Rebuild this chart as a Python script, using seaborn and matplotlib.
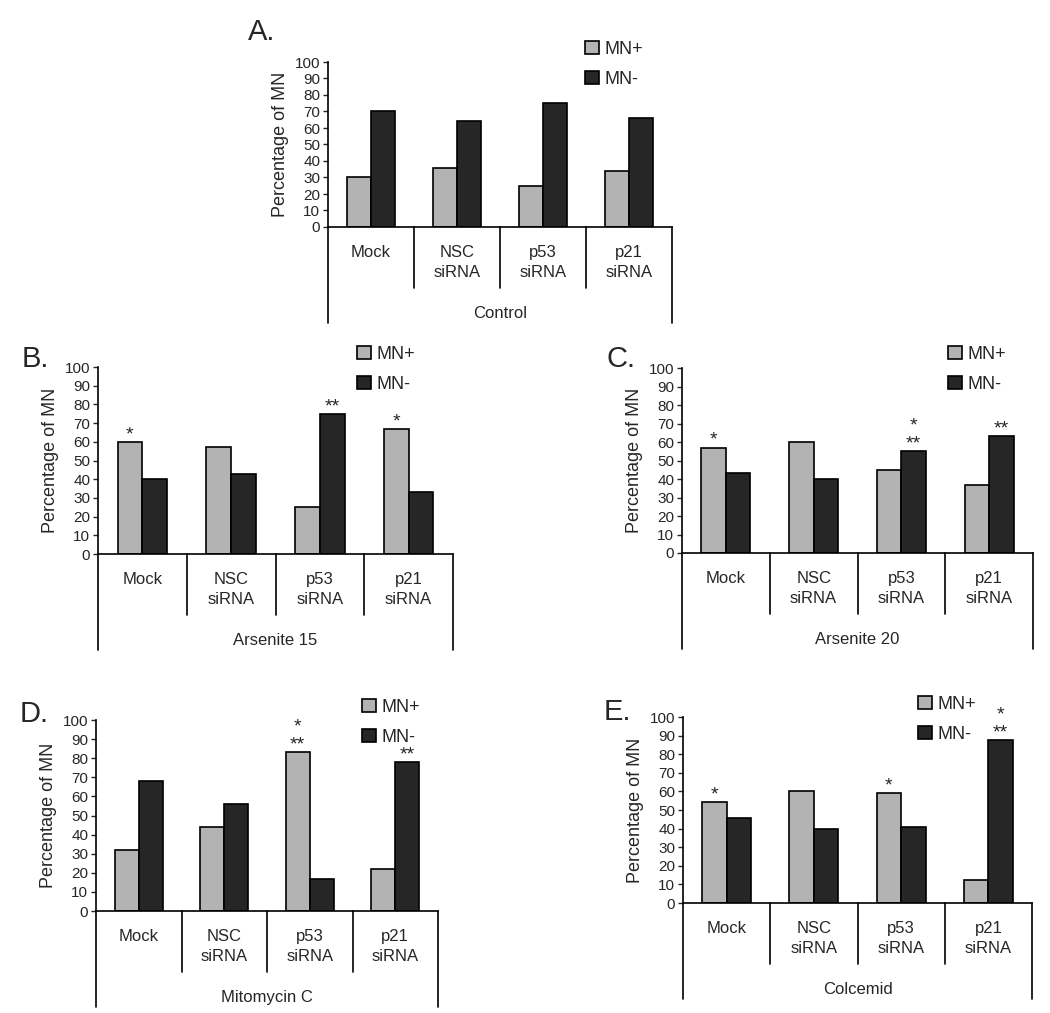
import matplotlib
matplotlib.use("Agg")
import matplotlib.pyplot as plt
import seaborn as sns
import pandas as pd

categories = ["Mock", "NSC\nsiRNA", "p53\nsiRNA", "p21\nsiRNA"]
series = ["MN+", "MN-"]

# panel A - Control
mn_pos_a = [30, 36, 25, 34]
mn_neg_a = [70, 64, 75, 66]
# panel B - Arsenite 15
mn_pos_b = [60, 57, 25, 67]
mn_neg_b = [40, 43, 75, 33]
# panel C - Arsenite 20
mn_pos_c = [57, 60, 45, 37]
mn_neg_c = [43, 40, 55, 63]
# panel D - Mitomycin C
mn_pos_d = [32, 44, 83, 22]
mn_neg_d = [68, 56, 17, 78]
# panel E - Colcemid
mn_pos_e = [54.5, 60, 59, 12.5]
mn_neg_e = [45.5, 40, 41, 87.5]

# significance marks
stars_pos_a = ["", "", "", ""]
stars_neg_a = ["", "", "", ""]
stars_pos_b = ["*", "", "", "*"]
stars_neg_b = ["", "", "**", ""]
stars_pos_c = ["*", "", "", ""]
stars_neg_c = ["", "", "*\n**", "**"]
stars_pos_d = ["", "", "*\n**", ""]
stars_neg_d = ["", "", "", "**"]
stars_pos_e = ["*", "", "*", ""]
stars_neg_e = ["", "", "", "*\n**"]

W, H = 1050, 1013

panels = [
    # letter, group label, pos, neg, stars+, stars-, axes px (l, r, top, bottom), letter px, legend px
    ("A.", "Control", mn_pos_a, mn_neg_a, stars_pos_a, stars_neg_a,
     (328, 672, 62, 227), (248, 40), (585, 41)),
    ("B.", "Arsenite 15", mn_pos_b, mn_neg_b, stars_pos_b, stars_neg_b,
     (98, 453, 367, 554), (22, 367), (357, 346)),
    ("C.", "Arsenite 20", mn_pos_c, mn_neg_c, stars_pos_c, stars_neg_c,
     (682, 1033, 368, 553), (606, 367), (948, 346)),
    ("D.", "Mitomycin C", mn_pos_d, mn_neg_d, stars_pos_d, stars_neg_d,
     (96, 438, 720, 911), (20, 722), (362, 699)),
    ("E.", "Colcemid", mn_pos_e, mn_neg_e, stars_pos_e, stars_neg_e,
     (683, 1032, 717, 903), (604, 720), (918, 696)),
]

sns.set_style("white")
plt.rcParams["font.family"] = ["Liberation Sans", "DejaVu Sans"]

light = "#B3B3B3"
dark = "#262626"

fig = plt.figure(figsize=(W / 100, H / 100), dpi=100)

for letter, group, pos, neg, sp, sn, box, lpos, legpos in panels:
    l, r, t, b = box
    ax = fig.add_axes([l / W, 1 - b / H, (r - l) / W, (b - t) / H])
    df = pd.DataFrame({
        "cat": categories * 2,
        "series": [series[0]] * 4 + [series[1]] * 4,
        "val": pos + neg,
    })
    sns.barplot(data=df, x="cat", y="val", hue="series", palette=[light, dark],
                width=0.56, edgecolor="black", linewidth=1.2, saturation=1,
                errorbar=None, ax=ax)
    ax.set_xlim(-0.5, 3.5)
    ax.set_ylim(0, 100)
    ax.set_yticks(range(0, 101, 10))
    ax.tick_params(axis="y", labelsize=11, length=3.5, width=1, pad=2, left=True)
    ax.tick_params(axis="x", labelsize=12, length=0, pad=13)
    for lab in ax.get_xticklabels():
        lab.set_linespacing(1.45)
    ax.set_xlabel("")
    ax.set_ylabel("Percentage of MN", fontsize=13, labelpad=4)
    for s in ["top", "right"]:
        ax.spines[s].set_visible(False)
    for s in ["left", "bottom"]:
        ax.spines[s].set_color("black")
        ax.spines[s].set_linewidth(1.2)

    # table-style separators under the axis
    axh = b - t
    tr = ax.get_xaxis_transform()
    for xb in [0.5, 1.5, 2.5]:
        ax.plot([xb, xb], [0, -61 / axh], transform=tr, color="black", lw=1.2, clip_on=False)
    for xb in [-0.5, 3.5]:
        ax.plot([xb, xb], [0, -96 / axh], transform=tr, color="black", lw=1.2, clip_on=False)
    ax.annotate(group, xy=(0.5, 0), xycoords="axes fraction", xytext=(0, -62),
                textcoords="offset points", ha="center", va="center", fontsize=12)

    # significance stars
    for cont, marks in zip(ax.containers, [sp, sn]):
        for bar, m in zip(cont, marks):
            if m:
                ax.annotate(m, xy=(bar.get_x() + bar.get_width() / 2, bar.get_height()),
                            xytext=(0, -1), textcoords="offset points", ha="center",
                            va="bottom", fontsize=14, linespacing=1.1, annotation_clip=False)

    handles, labels = ax.get_legend_handles_labels()
    ax.legend(handles, labels, loc="upper left", bbox_to_anchor=(legpos[0] / W, 1 - legpos[1] / H),
              bbox_transform=fig.transFigure, frameon=False, fontsize=13,
              handlelength=0.8, handleheight=0.7, handletextpad=0.3,
              labelspacing=0.7, borderpad=0, borderaxespad=0)

    fig.text(lpos[0] / W, 1 - lpos[1] / H, letter, fontsize=21, ha="left", va="baseline")

fig.savefig("out.png", dpi=100, facecolor="white")
